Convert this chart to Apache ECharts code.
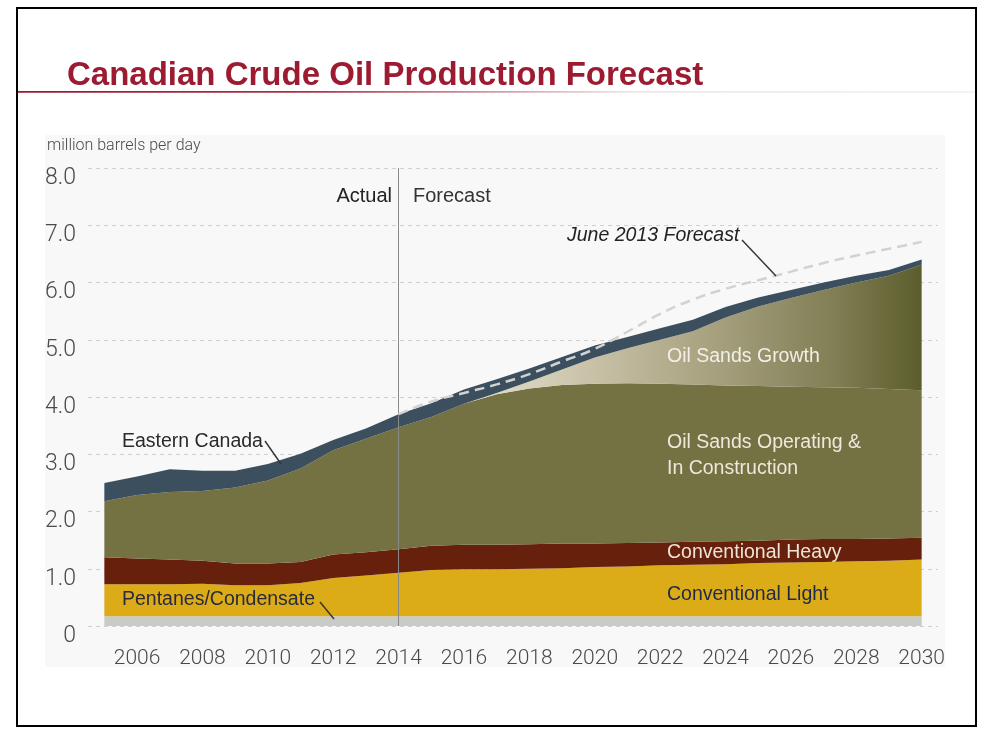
<!DOCTYPE html>
<html><head><meta charset="utf-8">
<script src="https://cdn.jsdelivr.net/npm/echarts@6/dist/echarts.min.js"></script>
<style>html,body{margin:0;padding:0;background:#fff}#c{width:987px;height:736px}</style>
</head><body><div id="c"></div>
<script>
const years = ['2005','2006','2007','2008','2009','2010','2011','2012','2013','2014','2015','2016','2017','2018','2019','2020','2021','2022','2023','2024','2025','2026','2027','2028','2029','2030'];
const yTickLabels = ['0','1.0','2.0','3.0','4.0','5.0','6.0','7.0','8.0'];
const pentanes = [0.17,0.17,0.17,0.17,0.17,0.17,0.17,0.17,0.17,0.17,0.17,0.17,0.17,0.17,0.17,0.17,0.17,0.17,0.17,0.17,0.17,0.17,0.17,0.17,0.17,0.17];
const convLight = [0.56,0.56,0.56,0.57,0.54,0.54,0.58,0.67,0.71,0.76,0.81,0.82,0.82,0.83,0.84,0.86,0.87,0.89,0.90,0.91,0.93,0.94,0.95,0.96,0.97,0.99];
const convHeavy = [0.47,0.45,0.43,0.40,0.38,0.38,0.37,0.41,0.41,0.41,0.42,0.43,0.43,0.43,0.43,0.41,0.41,0.40,0.40,0.40,0.39,0.40,0.40,0.39,0.39,0.38];
const oilSandsOp = [0.98,1.11,1.18,1.22,1.33,1.45,1.63,1.82,1.98,2.13,2.25,2.46,2.63,2.72,2.77,2.79,2.79,2.77,2.75,2.72,2.70,2.67,2.65,2.64,2.61,2.58];
const oilSandsGrowth = ['-','-','-','-','-','-','-','-','-','-','-',0,0.02,0.12,0.27,0.46,0.61,0.77,0.93,1.19,1.39,1.55,1.70,1.84,1.98,2.19];
const easternCanada = [0.32,0.32,0.40,0.35,0.29,0.29,0.26,0.18,0.18,0.23,0.24,0.25,0.24,0.23,0.22,0.21,0.20,0.20,0.20,0.18,0.16,0.14,0.13,0.12,0.10,0.09];
const june2013 = ['-','-','-','-','-','-','-','-','-',3.70,3.92,4.07,4.22,4.40,4.62,4.84,5.14,5.45,5.70,5.89,6.04,6.19,6.34,6.47,6.59,6.71];

const AXISFONT = "Roboto, 'Liberation Sans', sans-serif";
const SANS = "'Liberation Sans', Arial, sans-serif";

function area(name, data, color, z) {
  return {
    name, type: 'line', stack: 'total', data, z: z || 2,
    symbol: 'none', showSymbol: false, smooth: false,
    lineStyle: { width: 0 },
    areaStyle: { color, opacity: 1 },
    silent: true
  };
}

function txt(x, y, text, size, fill, extra) {
  return {
    type: 'text', x, y, z: 100, silent: true,
    style: Object.assign({ text, fontSize: size, fontFamily: SANS, fill, align: 'left', verticalAlign: 'middle' }, extra || {})
  };
}
function ln(x1, y1, x2, y2) {
  return { type: 'line', z: 100, silent: true, shape: { x1, y1, x2, y2 }, style: { stroke: '#333', lineWidth: 1.4 } };
}

const chart = echarts.init(document.getElementById('c'), null, { renderer: 'canvas' });
chart.setOption({
  animation: false,
  backgroundColor: '#ffffff',
  grid: { left: 88, right: 49, top: 168, bottom: 110, containLabel: false },
  xAxis: {
    type: 'category', data: years, boundaryGap: true,
    axisLine: { show: false }, axisTick: { show: false },
    axisLabel: {
      interval: function (i, v) { return Number(v) % 2 === 0; },
      fontFamily: AXISFONT, fontWeight: 300, fontSize: 21, color: '#4a4a4a', margin: 22
    },
    splitLine: { show: false }
  },
  yAxis: {
    type: 'value', min: 0, max: 8, interval: 1,
    axisLine: { show: false }, axisTick: { show: false },
    axisLabel: {
      formatter: function (v) { return yTickLabels[Math.round(v)]; },
      fontFamily: AXISFONT, fontWeight: 300, fontSize: 23, color: '#4a4a4a', margin: 12,
      verticalAlign: 'top', lineHeight: 20
    },
    splitLine: { show: true, lineStyle: { color: '#cfcfcf', width: 1, type: [4, 4] } }
  },
  series: [
    area('Pentanes/Condensate', pentanes, '#c9cbc6'),
    area('Conventional Light', convLight, '#dcab18'),
    area('Conventional Heavy', convHeavy, '#66200c'),
    area('Oil Sands Operating & In Construction', oilSandsOp, '#747243'),
    area('Oil Sands Growth', oilSandsGrowth, new echarts.graphic.LinearGradient(0, 0, 1, 0, [
      { offset: 0, color: '#e4dfcf' },
      { offset: 0.2, color: '#d2cbb3' },
      { offset: 0.55, color: '#a6a07e' },
      { offset: 0.8, color: '#828057' },
      { offset: 1, color: '#5c5d2c' }
    ])),
    area('Eastern Canada', easternCanada, '#3c4f5e'),
    {
      name: 'June 2013 Forecast', type: 'line', data: june2013, z: 5,
      symbol: 'none', showSymbol: false, smooth: true, silent: true,
      lineStyle: { color: '#d2d2d2', width: 2.5, type: [10, 6] },
      markLine: {
        silent: true, symbol: 'none', label: { show: false },
        lineStyle: { color: '#8a8a8a', width: 1, type: 'solid' },
        data: [[{ coord: ['2014', 8] }, { coord: ['2014', 0] }]]
      }
    }
  ],
  graphic: [
    { type: 'rect', z: -10, silent: true, shape: { x: 45, y: 135, width: 900, height: 532 }, style: { fill: '#f8f8f8' } },
    { type: 'rect', z: 100, silent: true, shape: { x: 17, y: 8, width: 959, height: 718 }, style: { fill: 'none', stroke: '#000', lineWidth: 2 } },
    { type: 'rect', z: 100, silent: true, shape: { x: 18, y: 91, width: 957, height: 1.8 },
      style: { fill: new echarts.graphic.LinearGradient(0, 0, 1, 0, [
        { offset: 0, color: '#9e1830' }, { offset: 0.3, color: '#a93347' },
        { offset: 0.64, color: '#efe6e7' }, { offset: 1, color: '#f2f2f2' }]) } },
    txt(67, 76, 'Canadian Crude Oil Production Forecast', 33, '#9c1b31', { fontWeight: 'bold' }),
    txt(47, 146, 'million barrels per day', 16, '#4a4a4a', { fontFamily: AXISFONT, fontWeight: 300 }),
    txt(392, 196, 'Actual', 20, '#222', { align: 'right' }),
    txt(413, 196, 'Forecast', 20, '#333'),
    txt(567, 236, 'June 2013 Forecast', 19.5, '#222', { fontStyle: 'italic' }),
    ln(742, 240, 776, 276),
    txt(667, 357, 'Oil Sands Growth', 19.5, '#f2efe6'),
    txt(667, 443, 'Oil Sands Operating &', 19.5, '#ece9dc'),
    txt(667, 469, 'In Construction', 19.5, '#ece9dc'),
    txt(667, 553, 'Conventional Heavy', 19.5, '#ece4d6'),
    txt(667, 595, 'Conventional Light', 19.5, '#1e2a48'),
    txt(122, 442, 'Eastern Canada', 19.5, '#2a2a2a'),
    ln(265, 441, 281, 464),
    txt(122, 600, 'Pentanes/Condensate', 19.5, '#2a2a3a'),
    ln(320, 602, 334, 619)
  ]
});
</script>
</body></html>
